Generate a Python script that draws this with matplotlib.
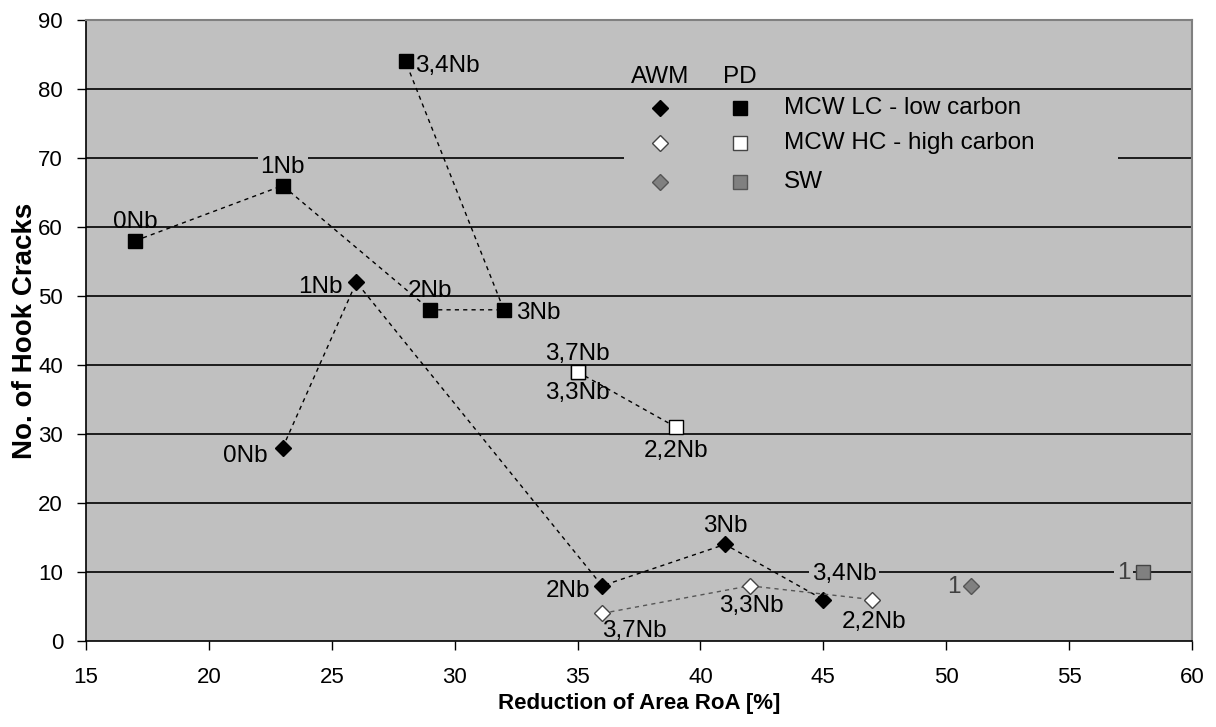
import matplotlib
matplotlib.use("Agg")
import matplotlib.pyplot as plt
from matplotlib.patches import Rectangle

plt.rcParams['font.family'] = ['Liberation Sans', 'DejaVu Sans']

# ---- data ----
lc_pd_x = [17, 23, 29, 32, 28]
lc_pd_y = [58, 66, 48, 48, 84]
lc_pd_lab = ["0Nb", "1Nb", "2Nb", "3Nb", "3,4Nb"]

lc_awm_x = [23, 26, 36, 41, 45]
lc_awm_y = [28, 52, 8, 14, 6]
lc_awm_lab = ["0Nb", "1Nb", "2Nb", "3Nb", "3,4Nb"]

hc_pd_x = [35, 35, 39]
hc_pd_y = [39, 39, 31]
hc_pd_lab = ["3,7Nb", "3,3Nb", "2,2Nb"]

hc_awm_x = [36, 42, 47]
hc_awm_y = [4, 8, 6]
hc_awm_lab = ["3,7Nb", "3,3Nb", "2,2Nb"]

sw_awm_x = [51]
sw_awm_y = [8]
sw_pd_x = [58]
sw_pd_y = [10]
sw_lab = ["1"]

xticks = list(range(15, 61, 5))
yticks = list(range(0, 91, 10))

BG = '#c0c0c0'
GREY = '#808080'
PX = 72 / 100.0  # pixels -> points
FS = 17.5

fig = plt.figure(figsize=(12.16, 7.27), dpi=100)
ax = fig.add_axes([86/1216, 1-641/727, (1192-86)/1216, (641-20)/727])
ax.set_facecolor(BG)
ax.set_xlim(15, 60)
ax.set_ylim(0, 90)
ax.set_xticks(xticks)
ax.set_yticks(yticks)
ax.tick_params(axis='both', labelsize=16, direction='out', length=6.5, width=1, colors='black')
ax.tick_params(axis='x', pad=12)
ax.tick_params(axis='y', pad=10)
for y in yticks[1:]:
    ax.axhline(y, color='black', lw=1.2, zorder=1)
for s in ['top', 'right']:
    ax.spines[s].set_color(GREY)
    ax.spines[s].set_linewidth(1.5)
for s in ['left', 'bottom']:
    ax.spines[s].set_color('black')
    ax.spines[s].set_linewidth(1.2)

ax.set_xlabel("Reduction of Area RoA [%]", fontsize=16, fontweight='bold', labelpad=4)
ax.set_ylabel("No. of Hook Cracks", fontsize=20, fontweight='bold', labelpad=0)

dash = (0, (3, 3))
sq_ms = 9.5
di_ms = 8.5

# legend background box (hides gridline)
ax.add_patch(Rectangle((36.9, 64.0), 57.0-36.9, 79.4-64.0, facecolor=BG, edgecolor='none', zorder=2))

ax.plot(lc_pd_x, lc_pd_y, ls=dash, color='black', lw=1, marker='s', ms=sq_ms,
        mfc='black', mec='black', zorder=4)
ax.plot(lc_awm_x, lc_awm_y, ls=dash, color='black', lw=1, marker='D', ms=di_ms,
        mfc='black', mec='black', zorder=4)
ax.plot(hc_pd_x, hc_pd_y, ls=dash, color='black', lw=1, marker='s', ms=sq_ms,
        mfc='white', mec='black', mew=1, zorder=4)
ax.plot(hc_awm_x, hc_awm_y, ls=dash, color='#555555', lw=1, marker='D', ms=di_ms,
        mfc='white', mec='#444444', mew=1, zorder=4)
ax.plot(sw_awm_x, sw_awm_y, ls='none', marker='D', ms=di_ms, mfc=GREY, mec='#555555', mew=1, zorder=4)
ax.plot(sw_pd_x, sw_pd_y, ls='none', marker='s', ms=sq_ms, mfc=GREY, mec='#444444', mew=1, zorder=4)

def lab(x, y, t, dx, dy, bg=False, color='black'):
    kw = {}
    if bg:
        kw['bbox'] = dict(facecolor=BG, edgecolor='none', pad=2)
    ax.annotate(t, (x, y), xytext=(dx*PX, dy*PX), textcoords='offset points',
                ha='center', va='center', fontsize=FS, color=color, zorder=3, **kw)

lc_pd_off = [(0, 19, False), (0, 19, True), (0, 19, False), (34, -3, False), (42, -5, False)]
for x, y, t, (dx, dy, b) in zip(lc_pd_x, lc_pd_y, lc_pd_lab, lc_pd_off):
    lab(x, y, t, dx, dy, b)
lc_awm_off = [(-37, -8, False), (-36, -5, False), (-34, -5, False), (0, 18, False), (21, 26, True)]
for x, y, t, (dx, dy, b) in zip(lc_awm_x, lc_awm_y, lc_awm_lab, lc_awm_off):
    lab(x, y, t, dx, dy, b)
hc_pd_off = [(0, 18), (0, -21), (0, -24)]
for x, y, t, (dx, dy) in zip(hc_pd_x, hc_pd_y, hc_pd_lab, hc_pd_off):
    lab(x, y, t, dx, dy)
hc_awm_off = [(32, -18), (2, -20), (2, -22)]
for x, y, t, (dx, dy) in zip(hc_awm_x, hc_awm_y, hc_awm_lab, hc_awm_off):
    lab(x, y, t, dx, dy)
lab(sw_awm_x[0], sw_awm_y[0], sw_lab[0], -17, -1, False, color='#404040')
lab(sw_pd_x[0], sw_pd_y[0], sw_lab[0], -19, -1, True, color='#404040')

# manual legend
leg_dx = 38.35
leg_sx = 41.6
leg_tx = 43.4
ax.text(leg_dx, 81.8, "AWM", ha='center', va='center', fontsize=FS, zorder=5)
ax.text(leg_sx, 81.8, "PD", ha='center', va='center', fontsize=FS, zorder=5)
rows_y = [77.2, 72.2, 66.5]
rows_txt = ["MCW LC - low carbon", "MCW HC - high carbon", "SW"]
rows_fc = ['black', 'white', GREY]
rows_ec = ['black', '#444444', '#555555']
for ry, rt, fc, ec in zip(rows_y, rows_txt, rows_fc, rows_ec):
    ax.plot([leg_dx], [ry], marker='D', ms=di_ms, mfc=fc, mec=ec, ls='none', zorder=5)
    ax.plot([leg_sx], [ry], marker='s', ms=sq_ms, mfc=fc, mec=ec, ls='none', zorder=5)
    ax.text(leg_tx, ry, rt, ha='left', va='center', fontsize=FS, zorder=5)

fig.savefig("out.png", dpi=100, facecolor='white')
